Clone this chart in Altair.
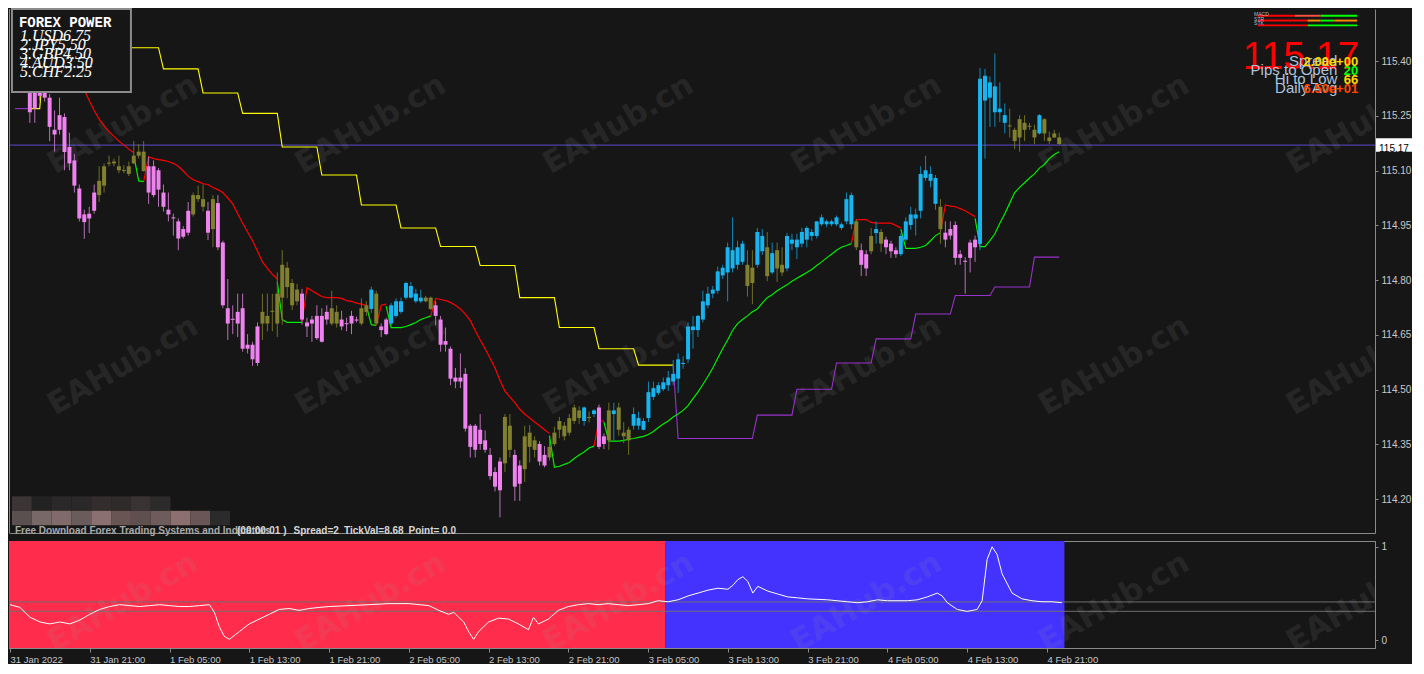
import altair as alt
import pandas as pd

# ---------------- values (USDJPY M30, 31 Jan 13:00 -> 4 Feb 22:30) ----------------
# candle colour class: p = pink (bearish), o = olive, b = blue
KIND = ("o" + "p" * 16 + "o" * 10 + "p" * 9 + "o" * 3 + "p" + "o" + "p" * 9 + "o" * 8 + "p" * 6
        + "o" * 2 + "p" * 4 + "o" * 2 + "b" + "o" + "p" * 2 + "b" * 7 + "o" * 2 + "p" * 14 + "o" * 2
        + "p" * 2 + "o" * 3 + "p" * 2 + "o" * 7 + "b" + "o" + "b" + "p" * 2 + "o" + "b" + "o" * 3
        + "b" * 23 + "o" * 2 + "b" * 2 + "o" + "b" + "o" * 2 + "b" * 14 + "o" + "p" * 2 + "o" + "b"
        + "o" + "p" * 3 + "b" * 8 + "o" + "p" * 7 + "b" * 6 + "o" * 6 + "b" + "o" * 4)

BODY_TOP = [
    115.508, 115.463, 115.411, 115.352, 115.313, 115.321, 115.315, 115.300, 115.212, 115.252,
    115.247, 115.165, 115.128, 115.051, 114.980, 114.982, 115.040, 115.072, 115.112, 115.122,
    115.125, 115.112, 115.102, 115.112, 115.141, 115.152, 115.152, 115.112, 115.112, 115.101,
    115.040, 114.993, 114.972, 114.961, 114.940, 114.990, 115.033, 115.033, 115.022, 114.990,
    115.022, 115.011, 114.903, 114.723, 114.694, 114.713, 114.723, 114.623, 114.623, 114.673,
    114.713, 114.702, 114.716, 114.763, 114.842, 114.834, 114.792, 114.774, 114.763, 114.684,
    114.692, 114.702, 114.702, 114.713, 114.723, 114.713, 114.692, 114.682, 114.702, 114.692,
    114.723, 114.731, 114.774, 114.763, 114.673, 114.692, 114.731, 114.742, 114.742, 114.792,
    114.784, 114.763, 114.752, 114.752, 114.752, 114.731, 114.692, 114.633, 114.612, 114.533,
    114.533, 114.543, 114.401, 114.401, 114.390, 114.361, 114.321, 114.274, 114.303, 114.425,
    114.401, 114.321, 114.292, 114.372, 114.382, 114.361, 114.351, 114.321, 114.343, 114.382,
    114.414, 114.401, 114.422, 114.451, 114.443, 114.451, 114.425, 114.443, 114.451, 114.372,
    114.443, 114.443, 114.451, 114.382, 114.390, 114.433, 114.422, 114.414, 114.493, 114.504,
    114.512, 114.520, 114.533, 114.543, 114.583, 114.573, 114.673, 114.673, 114.702, 114.742,
    114.763, 114.774, 114.824, 114.834, 114.890, 114.882, 114.890, 114.900, 114.842, 114.834,
    114.932, 114.921, 114.890, 114.874, 114.882, 114.842, 114.921, 114.911, 114.911, 114.932,
    114.943, 114.932, 114.961, 114.972, 114.961, 114.961, 114.972, 114.953, 115.022, 115.033,
    114.961, 114.882, 114.871, 114.921, 114.940, 114.932, 114.911, 114.900, 114.882, 114.921,
    114.961, 114.980, 114.980, 115.091, 115.101, 115.091, 115.080, 115.001, 114.930, 114.940,
    114.951, 114.871, 114.853, 114.903, 114.911, 115.352, 115.360, 115.342, 115.331, 115.270,
    115.252, 115.224, 115.212, 115.241, 115.231, 115.223, 115.212, 115.252, 115.241, 115.191,
    115.202, 115.191]

BODY_BOT = [
    115.411, 115.397, 115.345, 115.260, 115.270, 115.305, 115.300, 115.220, 115.199, 115.212,
    115.151, 115.120, 115.059, 114.969, 114.959, 114.969, 114.990, 115.033, 115.059, 115.120,
    115.120, 115.101, 115.101, 115.091, 115.120, 115.141, 115.099, 115.040, 115.033, 115.048,
    115.001, 114.980, 114.970, 114.914, 114.919, 114.930, 114.980, 115.022, 115.001, 114.930,
    114.940, 114.890, 114.731, 114.681, 114.692, 114.681, 114.612, 114.612, 114.583, 114.573,
    114.681, 114.681, 114.714, 114.681, 114.752, 114.781, 114.731, 114.742, 114.692, 114.673,
    114.681, 114.641, 114.631, 114.692, 114.681, 114.681, 114.673, 114.681, 114.681, 114.691,
    114.681, 114.713, 114.721, 114.681, 114.663, 114.652, 114.681, 114.702, 114.713, 114.752,
    114.752, 114.742, 114.742, 114.742, 114.721, 114.702, 114.623, 114.623, 114.530, 114.522,
    114.522, 114.393, 114.343, 114.335, 114.351, 114.335, 114.263, 114.234, 114.224, 114.298,
    114.335, 114.234, 114.242, 114.282, 114.343, 114.335, 114.303, 114.292, 114.314, 114.351,
    114.390, 114.372, 114.382, 114.414, 114.422, 114.414, 114.422, 114.433, 114.343, 114.351,
    114.361, 114.433, 114.390, 114.372, 114.361, 114.401, 114.401, 114.390, 114.422, 114.480,
    114.491, 114.501, 114.512, 114.522, 114.530, 114.572, 114.583, 114.663, 114.663, 114.692,
    114.731, 114.763, 114.771, 114.813, 114.821, 114.832, 114.842, 114.850, 114.784, 114.792,
    114.842, 114.879, 114.811, 114.821, 114.832, 114.821, 114.832, 114.900, 114.890, 114.900,
    114.911, 114.921, 114.921, 114.953, 114.953, 114.953, 114.953, 114.943, 114.961, 114.953,
    114.890, 114.842, 114.832, 114.879, 114.929, 114.900, 114.890, 114.879, 114.871, 114.871,
    114.911, 114.951, 114.969, 114.990, 115.080, 115.072, 115.009, 114.940, 114.911, 114.922,
    114.861, 114.861, 114.852, 114.861, 114.890, 114.900, 115.292, 115.300, 115.260, 115.260,
    115.231, 115.222, 115.181, 115.191, 115.212, 115.221, 115.191, 115.202, 115.202, 115.181,
    115.191, 115.173]

HIGH = [
    115.520, 115.490, 115.424, 115.371, 115.331, 115.331, 115.326, 115.310, 115.265, 115.300,
    115.257, 115.204, 115.146, 115.062, 114.993, 115.001, 115.062, 115.112, 115.120, 115.141,
    115.133, 115.141, 115.115, 115.125, 115.181, 115.173, 115.181, 115.138, 115.128, 115.107,
    115.062, 115.040, 114.982, 114.969, 114.948, 115.014, 115.040, 115.059, 115.062, 115.014,
    115.033, 115.033, 114.908, 114.803, 114.731, 114.763, 114.763, 114.652, 114.631, 114.684,
    114.763, 114.763, 114.763, 114.821, 114.882, 114.850, 114.803, 114.790, 114.776, 114.697,
    114.702, 114.731, 114.723, 114.731, 114.771, 114.731, 114.716, 114.697, 114.716, 114.700,
    114.750, 114.742, 114.782, 114.771, 114.681, 114.697, 114.737, 114.750, 114.752, 114.795,
    114.795, 114.776, 114.774, 114.757, 114.755, 114.742, 114.702, 114.670, 114.618, 114.559,
    114.599, 114.559, 114.406, 114.406, 114.433, 114.388, 114.340, 114.287, 114.314, 114.433,
    114.433, 114.335, 114.306, 114.401, 114.403, 114.372, 114.359, 114.345, 114.367, 114.398,
    114.425, 114.411, 114.433, 114.459, 114.454, 114.454, 114.440, 114.446, 114.459, 114.380,
    114.464, 114.464, 114.464, 114.411, 114.398, 114.451, 114.440, 114.422, 114.522, 114.522,
    114.520, 114.533, 114.551, 114.581, 114.599, 114.591, 114.684, 114.702, 114.705, 114.771,
    114.782, 114.784, 114.837, 114.842, 114.903, 114.972, 114.908, 114.908, 114.882, 114.882,
    114.943, 114.940, 114.932, 114.903, 114.903, 114.890, 114.929, 114.927, 114.927, 114.943,
    114.948, 114.940, 114.961, 114.980, 114.966, 114.966, 114.977, 114.958, 115.040, 115.040,
    114.966, 114.900, 114.882, 114.943, 114.961, 114.940, 114.919, 114.908, 114.890, 114.929,
    114.972, 115.001, 114.996, 115.112, 115.141, 115.112, 115.088, 115.022, 114.961, 114.961,
    114.961, 114.882, 114.863, 114.911, 114.922, 115.381, 115.379, 115.358, 115.421, 115.342,
    115.284, 115.270, 115.218, 115.252, 115.252, 115.231, 115.226, 115.255, 115.244, 115.207,
    115.212, 115.204]

LOW = [
    115.405, 115.384, 115.331, 115.231, 115.231, 115.292, 115.289, 115.181, 115.152, 115.199,
    115.101, 115.101, 115.040, 114.961, 114.913, 114.929, 114.982, 115.014, 115.040, 115.112,
    115.112, 115.093, 115.093, 115.085, 115.118, 115.133, 115.097, 115.009, 115.027, 115.001,
    114.988, 114.961, 114.922, 114.882, 114.914, 114.922, 114.974, 115.014, 114.988, 114.910,
    114.890, 114.882, 114.723, 114.636, 114.652, 114.644, 114.604, 114.599, 114.565, 114.565,
    114.636, 114.660, 114.660, 114.644, 114.678, 114.750, 114.718, 114.731, 114.678, 114.644,
    114.631, 114.636, 114.629, 114.678, 114.676, 114.670, 114.663, 114.660, 114.652, 114.684,
    114.676, 114.702, 114.710, 114.678, 114.644, 114.649, 114.678, 114.697, 114.708, 114.747,
    114.750, 114.737, 114.737, 114.739, 114.718, 114.676, 114.604, 114.604, 114.512, 114.504,
    114.504, 114.385, 114.314, 114.314, 114.335, 114.327, 114.253, 114.221, 114.150, 114.274,
    114.314, 114.195, 114.195, 114.247, 114.300, 114.314, 114.292, 114.287, 114.306, 114.345,
    114.367, 114.361, 114.374, 114.406, 114.406, 114.401, 114.410, 114.425, 114.337, 114.337,
    114.335, 114.361, 114.374, 114.353, 114.321, 114.390, 114.390, 114.388, 114.411, 114.472,
    114.485, 114.496, 114.496, 114.512, 114.491, 114.557, 114.573, 114.612, 114.644, 114.684,
    114.723, 114.750, 114.763, 114.803, 114.742, 114.821, 114.829, 114.842, 114.755, 114.734,
    114.834, 114.869, 114.797, 114.816, 114.795, 114.811, 114.824, 114.882, 114.858, 114.890,
    114.890, 114.908, 114.914, 114.948, 114.945, 114.948, 114.948, 114.938, 114.953, 114.940,
    114.882, 114.811, 114.811, 114.871, 114.900, 114.877, 114.871, 114.861, 114.861, 114.866,
    114.906, 114.938, 114.922, 114.969, 115.072, 115.054, 114.993, 114.900, 114.890, 114.911,
    114.842, 114.842, 114.763, 114.821, 114.850, 114.882, 115.133, 115.220, 115.220, 115.233,
    115.202, 115.191, 115.159, 115.152, 115.181, 115.212, 115.173, 115.199, 115.181, 115.173,
    115.189, 115.170]

X_LABELS = ["31 Jan 2022", "31 Jan 21:00", "1 Feb 05:00", "1 Feb 13:00", "1 Feb 21:00",
            "2 Feb 05:00", "2 Feb 13:00", "2 Feb 21:00", "3 Feb 05:00", "3 Feb 13:00",
            "3 Feb 21:00", "4 Feb 05:00", "4 Feb 13:00", "4 Feb 21:00"]
BARS_PER_LABEL = 16
PRICE_TICKS = [114.20, 114.35, 114.50, 114.65, 114.80, 114.95, 115.10, 115.25, 115.40]
LAST_PRICE = 115.17

# moving average, drawn as red (above price) and green (below price) pieces: (first bar, values)
MA_RED = [
    (13, [115.337, 115.321, 115.292, 115.265, 115.241, 115.223, 115.207, 115.194, 115.181, 115.170,
          115.159, 115.149]),
    (26, [115.070, 115.138, 115.133, 115.130, 115.128, 115.125, 115.120, 115.112, 115.099, 115.085,
          115.075, 115.070, 115.064, 115.062, 115.054, 115.048, 115.040, 115.025, 115.009, 114.982,
          114.956, 114.932, 114.908, 114.879, 114.850, 114.832, 114.816, 114.803]),
    (58, [114.686, 114.779, 114.771, 114.763, 114.755, 114.752, 114.752, 114.752, 114.750, 114.744,
          114.742, 114.737, 114.734, 114.731]),
    (73, [114.676, 114.731, 114.734]),
    (84, [114.702, 114.750, 114.747, 114.744, 114.739, 114.731, 114.721, 114.707, 114.689, 114.662,
          114.636, 114.612, 114.586, 114.559, 114.525, 114.496, 114.480, 114.464, 114.446, 114.433,
          114.422, 114.411, 114.401, 114.390, 114.380]),
    (117, [114.345, 114.414, 114.414]),
    (169, [114.900, 114.966, 114.966, 114.966, 114.958, 114.956, 114.956, 114.956, 114.956, 114.950,
           114.943]),
    (187, [114.932, 115.006, 115.003, 115.001, 114.996, 114.990, 114.982, 114.974]),
]
MA_GREEN = [
    (0, [115.411, 115.400]),
    (24, [115.141, 115.072, 115.070]),
    (53, [114.795, 114.692, 114.684, 114.684, 114.684, 114.684]),
    (71, [114.729, 114.678, 114.676]),
    (75, [114.729, 114.670, 114.670, 114.670, 114.673, 114.678, 114.684, 114.692, 114.697, 114.702]),
    (108, [114.374, 114.287, 114.290, 114.295, 114.300, 114.311, 114.321, 114.329, 114.340, 114.345]),
    (119, [114.411, 114.359, 114.359, 114.359, 114.361, 114.364, 114.366, 114.369, 114.372, 114.377,
           114.385, 114.396, 114.406, 114.414, 114.425, 114.433, 114.443, 114.456, 114.475, 114.493,
           114.514, 114.536, 114.559, 114.586, 114.612, 114.636, 114.662, 114.681, 114.692, 114.702,
           114.713, 114.721, 114.737, 114.752, 114.760, 114.771, 114.779, 114.787, 114.797, 114.805,
           114.813, 114.821, 114.829, 114.840, 114.850, 114.861, 114.871, 114.882, 114.890, 114.895,
           114.900]),
    (179, [114.940, 114.887, 114.887, 114.887, 114.890, 114.895, 114.908, 114.922, 114.930]),
    (194, [114.969, 114.892, 114.892, 114.908, 114.927, 114.956, 114.982, 115.011, 115.040, 115.054,
           115.067, 115.080, 115.091, 115.107, 115.117, 115.133, 115.144, 115.152]),
]

# step lines: (first bar, level) ... last bar
YELLOW_STEPS = [(3, 115.270), (6, 115.437), (30, 115.379), (38, 115.313), (46, 115.257), (54, 115.165),
                (62, 115.088), (70, 115.006), (78, 114.943), (86, 114.892), (94, 114.840), (102, 114.752),
                (110, 114.670), (118, 114.612), (126, 114.567)]
YELLOW_END = 133
PURPLE_A = [(0, 115.270)]
PURPLE_A_END = 3
PURPLE_B = [(133, 114.567), (134, 114.366), (150, 114.430), (158, 114.501), (166, 114.573),
            (174, 114.639), (182, 114.707), (190, 114.758), (198, 114.781), (206, 114.863)]
PURPLE_B_END = 211

# lower indicator window
OSC_BAR = [0, 2, 4, 6, 8, 10, 12, 14, 16, 18, 20, 22, 24, 26, 28, 30, 32, 34, 36, 38,
           40, 41, 42, 43, 44, 46, 48, 50, 52, 54, 56, 58, 60, 62, 64, 68, 72, 76, 80, 84,
           86, 88, 89, 90, 91, 92, 93, 94, 96, 98, 100, 102, 104, 105, 106, 108, 110, 112, 114, 116,
           118, 120, 122, 124, 126, 128, 130, 132, 134, 136, 138, 140, 142, 144, 145, 146, 147, 148, 149, 150,
           152, 154, 156, 158, 160, 164, 168, 170, 172, 174, 176, 180, 182, 184, 186, 187, 188, 190, 192, 194,
           195, 196, 197, 198, 199, 201, 203, 205, 207, 209, 211]
OSC_VAL = [0.381, 0.351, 0.247, 0.196, 0.175, 0.196, 0.175, 0.216, 0.278, 0.330,
           0.361, 0.381, 0.371, 0.361, 0.371, 0.381, 0.371, 0.361, 0.361, 0.371,
           0.381, 0.299, 0.144, 0.041, 0.010, 0.093, 0.175, 0.227, 0.278, 0.330,
           0.340, 0.320, 0.340, 0.351, 0.361, 0.371, 0.381, 0.392, 0.392, 0.371,
           0.320, 0.278, 0.299, 0.247, 0.196, 0.093, 0.010, 0.093, 0.196, 0.237,
           0.227, 0.175, 0.113, 0.247, 0.175, 0.227, 0.320, 0.361, 0.381, 0.392,
           0.381, 0.392, 0.381, 0.371, 0.381, 0.392, 0.423, 0.412, 0.433, 0.474,
           0.505, 0.536, 0.557, 0.546, 0.588, 0.649, 0.680, 0.629, 0.505, 0.577,
           0.526, 0.495, 0.464, 0.454, 0.443, 0.433, 0.412, 0.402, 0.412, 0.433,
           0.423, 0.423, 0.433, 0.464, 0.505, 0.474, 0.402, 0.330, 0.309, 0.330,
           0.423, 0.866, 1.000, 0.918, 0.711, 0.505, 0.443, 0.423, 0.412, 0.412, 0.402]
OSC_LEVELS = [0.31, 0.41]
ZONE_START = [-0.5, 131.5]
ZONE_END = [131.5, 211.5]
ZONE_KIND = ["down", "up"]

POWER_TITLE = "FOREX POWER"
POWER_LINES = ["1.USD6.75", "2.JPY5.50", "3.GBP4.50", "4.AUD3.50", "5.CHF2.25"]
INFO_LABELS = ["Spread", "Pips to Open", "Hi to Low", "Daily Avg"]
INFO_VALUES = ["2.00e+00", "20", "66", "6.50e+01"]
STATUS_LEFT = "Free Download Forex Trading Systems and Indicators"
STATUS_PARTS = ["(00:00:01 )", "Spread=2", "TickVal=8.68", "Point= 0.0"]
WATERMARK = "EAHub.cn"

# ---------------- layout / style ----------------
BG = "#161616"
FRAME = "#8a8a8a"
AX_TXT = "#c8c8c8"
W, H_MAIN, H_LOW = 1366, 524, 107
SX, SY, SYL = W / 1378.0, H_MAIN / 543.0, H_LOW / 111.0


def px(v):
    return v * SX


def py(v):
    return v * SY


def pyl(v):
    return (v - 546) * SYL


ONE = pd.DataFrame({"a": [0]})
XS = alt.Scale(domain=[-0.2, 273.8], nice=False, zero=False)
YS = alt.Scale(domain=[114.107, 115.543], nice=False, zero=False)
YSL = alt.Scale(domain=[-0.0825, 1.0619], nice=False, zero=False)

XA_MAIN = alt.Axis(orient="bottom", labels=False, ticks=False, grid=False, title=None,
                   domainColor=FRAME)
YA_MAIN = alt.Axis(orient="right", values=PRICE_TICKS, format=".2f", grid=False, title=None,
                   tickSize=3, tickColor=FRAME, domainColor=FRAME, labelColor=AX_TXT,
                   labelFont="Liberation Sans", labelFontSize=10, labelPadding=3)
label_js = "[" + ",".join("'" + s + "'" for s in X_LABELS) + "]"
XA_LOW = alt.Axis(orient="bottom", values=[k * BARS_PER_LABEL for k in range(len(X_LABELS))],
                  labelExpr=label_js + "[round(datum.value/" + str(BARS_PER_LABEL) + ")]",
                  labelAlign="left", labelPadding=2, tickSize=4, tickColor=FRAME, domainColor=FRAME,
                  labelColor=AX_TXT, labelFont="Liberation Sans", labelFontSize=9.5, grid=False,
                  title=None, labelFlush=False, labelOverlap=False)
YA_LOW = alt.Axis(orient="right", values=[0, 1], format="d", grid=False, title=None, tickSize=3,
                  tickColor=FRAME, domainColor=FRAME, labelColor=AX_TXT, labelFont="Liberation Sans",
                  labelFontSize=10, labelPadding=3)


def xm(f):
    return alt.X(f, type="quantitative", scale=XS, axis=XA_MAIN)


def ym(f):
    return alt.Y(f, type="quantitative", scale=YS, axis=YA_MAIN)


def xl(f):
    return alt.X(f, type="quantitative", scale=XS, axis=XA_LOW)


def yl(f):
    return alt.Y(f, type="quantitative", scale=YSL, axis=YA_LOW)


def label(text, x, y, **kw):
    return alt.Chart(ONE).mark_text(text=text, **kw).encode(x=alt.value(x), y=alt.value(y))


def box(x1, x2, y1, y2, **kw):
    return alt.Chart(ONE).mark_rect(**kw).encode(
        x=alt.value(x1), x2=alt.value(x2), y=alt.value(y1), y2=alt.value(y2))


# ---------------- tables ----------------
rows = []
for i, k in enumerate(KIND):
    o, c = (BODY_TOP[i], BODY_BOT[i]) if k == "p" else (BODY_BOT[i], BODY_TOP[i])
    bt, bb = max(o, c), min(o, c)
    if bt - bb < 0.0028:
        bb = bt - 0.0028
    rows.append(dict(i=i, k=k, open=o, close=c, high=HIGH[i], low=LOW[i], bt=bt, bb=bb))
cdf = pd.DataFrame(rows)


def seg_df(segs, name):
    out = []
    for s, (start, vals) in enumerate(segs):
        for j, v in enumerate(vals):
            out.append(dict(i=start + j, v=v, seg=name + str(s)))
    return pd.DataFrame(out)


def step_df(steps, end, name):
    out = []
    for s, (start, lvl) in enumerate(steps):
        stop = steps[s + 1][0] - 1 if s + 1 < len(steps) else end
        for i in range(start, stop + 1):
            out.append(dict(i=i, v=lvl, seg=name))
    return pd.DataFrame(out)


red_df = seg_df(MA_RED, "r")
green_df = seg_df(MA_GREEN, "g")
yellow_df = step_df(YELLOW_STEPS, YELLOW_END, "y")
purple_df = pd.concat([step_df(PURPLE_A, PURPLE_A_END, "pa"), step_df(PURPLE_B, PURPLE_B_END, "pb")])

# ---------------- main window ----------------
wm_cols = [115, 365, 615, 865, 1115, 1365]
wm_main = []
for ry in [120, 370]:
    for cx in wm_cols:
        wm_main.append(label(WATERMARK, px(cx), py(ry), font="DejaVu Sans", fontWeight="bold",
                             fontSize=31, angle=330, align="center", baseline="middle",
                             color="#9a9a9a", opacity=0.12, clip=True))

price_line = alt.Chart(pd.DataFrame({"p": [LAST_PRICE]})).mark_rule(
    color="#5a4ccc", strokeWidth=1).encode(y=ym("p"))


def line_layer(df, color, width=1.2):
    return alt.Chart(df).mark_line(color=color, strokeWidth=width, clip=True).encode(
        x=xm("i"), y=ym("v"), detail="seg:N")


lines = [line_layer(yellow_df, "#ffff00", 1.1), line_layer(purple_df, "#9932cc", 1.1),
         line_layer(red_df, "#ff0000"), line_layer(green_df, "#00ee00")]

BODY_COL = {"p": "#ee82ee", "o": "#80802f", "b": "#18b4f0"}
WICK_COL = {"p": "#b870b8", "o": "#6e6e28", "b": "#1288b8"}
wicks, bodies = [], []
for k in ["p", "o", "b"]:
    base = alt.Chart(cdf).transform_filter(alt.datum.k == k)
    wicks.append(base.mark_rule(color=WICK_COL[k], strokeWidth=1, clip=True).encode(
        x=xm("i"), y=ym("high"), y2="low"))
    bodies.append(base.mark_bar(color=BODY_COL[k], size=4, clip=True).encode(
        x=xm("i"), y=ym("bt"), y2="bb"))

left_edge = alt.Chart(ONE).mark_rule(color=FRAME).encode(
    x=alt.value(0.5), y=alt.value(0), y2=alt.value(H_MAIN))

# forex power panel
overlay = [box(px(3), px(123), 0, py(86), fill=BG, stroke="#8c8c8c", strokeWidth=2),
           label(POWER_TITLE, px(10), py(14), font="Liberation Mono", fontWeight="bold",
                 fontSize=14, color="#ffffff", align="left")]
for n, t in enumerate(POWER_LINES):
    overlay.append(label(t, px(11), py(28 + 9.3 * n), font="Liberation Serif", fontStyle="italic",
                         fontSize=16, color="#ffffff", align="left"))

# info block top right
overlay.append(label(str(LAST_PRICE), px(1362), py(50), font="Liberation Sans", fontSize=39,
                     color="#ff0000", align="right"))
info_y = [54, 63, 73, 82]
info_col = ["#ffd700", "#00ff00", "#ffd700", "#ff4500"]
for n in range(4):
    overlay.append(label(INFO_LABELS[n], px(1340), py(info_y[n]), font="Liberation Sans",
                         fontSize=15, color="#b0c4de", align="right"))
for n in range(4):
    overlay.append(label(INFO_VALUES[n], px(1361), py(info_y[n] + 1), font="Liberation Sans",
                         fontSize=13, fontWeight="bold", color=info_col[n], align="right"))

# small signal bars
bar_rows = [
    (6, [(1260, 1297, "#ff0000"), (1297, 1323, "#ff5040"), (1323, 1360, "#00ff00")]),
    (11, [(1260, 1310, "#ff0000"), (1310, 1323, "#ff8c00"), (1323, 1337, "#00ff00"), (1337, 1360, "#ff8c00")]),
    (16, [(1260, 1310, "#ff0000"), (1310, 1360, "#00ff00")]),
]
for yy, parts in bar_rows:
    for a, b, col in parts:
        overlay.append(box(px(a), px(b), py(yy), py(yy + 2), fill=col))
for n, t in enumerate(["MACD", "STR", "STK"]):
    overlay.append(label(t, px(1256), py(5 + 5 * n), font="Liberation Sans", fontSize=5,
                         color="#bbbbbb", align="left"))

# blurred logo + status line
mos_top = ["#3c3535", "#222222", "#2a2828", "#2a2828", "#332d2d", "#302b2b", "#3a3333", "#2c2a2a"]
mos_bot = ["#5a5050", "#786868", "#806a6a", "#6b5c5c", "#8a7070", "#6a5555", "#5f4f4f", "#6e5c5c",
           "#8c7070", "#6a5656", "#2b2b2b"]
for n, col in enumerate(mos_top):
    overlay.append(box(px(3 + 20 * n), px(23 + 20 * n), py(505), py(520), fill=col))
for n, col in enumerate(mos_bot):
    overlay.append(box(px(3 + 20 * n), px(23 + 20 * n), py(520), py(535), fill=col))
overlay.append(label(STATUS_LEFT, px(6), py(541), font="Liberation Sans", fontWeight="bold",
                     fontSize=10, color="#a8a8a8", align="left"))
for t, xx in zip(STATUS_PARTS, [230, 287, 338, 403]):
    overlay.append(label(t, px(xx), py(541), font="Liberation Sans", fontWeight="bold",
                         fontSize=10, color="#d6d6d6", align="left"))

# last price tag on the axis
overlay.append(box(W + 1, W + 37, py(134), py(148), fill="#ffffff"))
overlay.append(label(str(LAST_PRICE), W + 4, py(145), font="Liberation Sans", fontSize=10,
                     color="#000000", align="left"))

main = alt.layer(price_line, *wm_main, *lines, *wicks, *bodies, left_edge, *overlay).properties(
    width=W, height=H_MAIN)

# ---------------- lower window ----------------
zdf = pd.DataFrame({"s": ZONE_START, "e": ZONE_END, "z": ZONE_KIND})
zones = [alt.Chart(zdf).transform_filter(alt.datum.z == z).mark_rect(color=col, clip=True).encode(
    x=xl("s"), x2="e", y=alt.value(0), y2=alt.value(H_LOW))
    for z, col in [("down", "#ff2d4b"), ("up", "#4433ff")]]
levels = alt.Chart(pd.DataFrame({"v": OSC_LEVELS})).mark_rule(color="#6e6e6e", strokeWidth=1).encode(
    y=yl("v"))
wm_low = [label(WATERMARK, px(cx), pyl(610), font="DejaVu Sans", fontWeight="bold", fontSize=31,
                angle=330, align="center", baseline="middle", color="#9a9a9a", opacity=0.12,
                clip=True)
          for cx in wm_cols]
osc = alt.Chart(pd.DataFrame({"i": OSC_BAR, "v": OSC_VAL})).mark_line(
    color="#ffffff", strokeWidth=1, clip=True).encode(x=xl("i"), y=yl("v"))

low = alt.layer(*zones, levels, *wm_low, osc).properties(
    width=W, height=H_LOW, view=alt.ViewBackground(stroke=FRAME, strokeWidth=1))

chart = alt.vconcat(main, low, spacing=3).properties(
    background=BG, padding={"left": 0, "top": 0, "right": 0, "bottom": 0}
).configure_view(stroke=None)

chart.save("out.html", embed_options={"renderer": "svg", "actions": False})
